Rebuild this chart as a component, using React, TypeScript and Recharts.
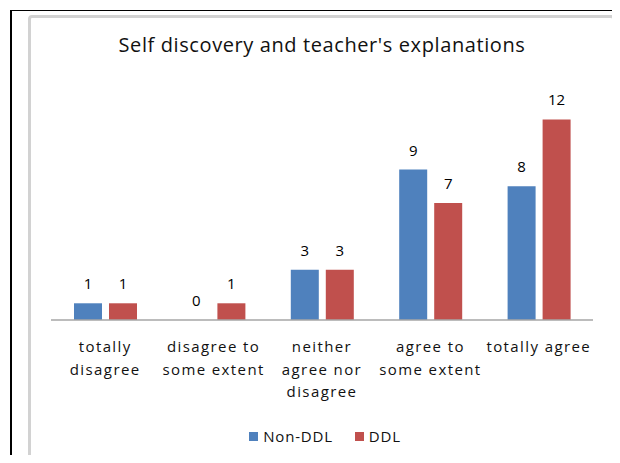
import { BarChart, Bar, XAxis, YAxis, Legend, LabelList } from 'recharts';

const categories = [
  'totally\ndisagree',
  'disagree to\nsome extent',
  'neither\nagree nor\ndisagree',
  'agree to\nsome extent',
  'totally agree',
];
const nonDdl = [1, 0, 3, 9, 8];
const ddl = [1, 1, 3, 7, 12];

const data = categories.map((c, i) => ({ name: c, nonDdl: nonDdl[i], ddl: ddl[i] }));

const FONT = '"Open Sans", sans-serif';

// zero-height bars get dropped (and their labels with them), so keep a hairline
const keepZero = (v: any) => (v === 0 ? 0.01 : 0);

const MultiLineTick = ({ x, y, payload }: any) => {
  const lines = String(payload.value).split('\n');
  return (
    <text x={x} y={y} textAnchor="middle" fill="#111" fontSize={15} fontFamily={FONT} letterSpacing={1.4}>
      {lines.map((l, i) => (
        <tspan key={i} x={x} dy={i === 0 ? 24 : 22.5}>{l}</tspan>
      ))}
    </text>
  );
};

const ValueLabel = (props: any) => {
  const { x, y, width, value } = props;
  return (
    <text x={x + width / 2} y={y - 14} textAnchor="middle" fill="#000" fontSize={15} fontFamily={FONT}>
      {value}
    </text>
  );
};

const LegendContent = ({ payload }: any) => (
  <div style={{ display: 'flex', justifyContent: 'center', fontFamily: FONT, fontSize: 15, color: '#111', letterSpacing: 0.8 }}>
    {payload.map((p: any, i: number) => (
      <div key={i} style={{ display: 'flex', alignItems: 'center', marginRight: i === 0 ? 22 : 0 }}>
        <span style={{ width: 9, height: 9, background: p.color, marginRight: 5, display: 'inline-block' }} />
        <span>{p.value}</span>
      </div>
    ))}
  </div>
);

export default function App() {
  return (
    <div style={{ position: 'relative', width: 620, height: 463, margin: -8, overflow: 'hidden', background: '#fff' }}>
      {/* outer black frame */}
      <div style={{ position: 'absolute', left: 10, top: 10, width: 620, height: 470, borderLeft: '2px solid #000', borderTop: '1px solid #000', boxSizing: 'border-box' }} />
      <div style={{ position: 'absolute', left: 618, top: 10, width: 2, height: 470, background: '#000' }} />
      {/* inner chart frame */}
      <div style={{ position: 'absolute', left: 28, top: 15, width: 587, height: 470, border: '3px solid #d2d2d2', borderRadius: 4, boxSizing: 'border-box' }} />
      <div style={{ position: 'absolute', left: 0, top: 31, width: 644, textAlign: 'center', fontFamily: FONT, fontSize: 20, letterSpacing: 0.6, color: '#111' }}>
        Self discovery and teacher's explanations
      </div>
      <div style={{ position: 'absolute', left: 0, top: 0 }}>
        <BarChart width={620} height={463} data={data} margin={{ top: 86, right: 27, left: 51, bottom: 63 }} barSize={28} barGap={7}>
          <XAxis dataKey="name" tick={<MultiLineTick />} tickLine={false} axisLine={{ stroke: '#a6a6a6', strokeWidth: 1.5 }} interval={0} height={80} />
          <YAxis hide domain={[0, 14]} />
          <Legend
            verticalAlign="middle"
            layout="horizontal"
            itemSorter={(item: any) => (item.dataKey === 'nonDdl' ? 0 : 1)}
            content={<LegendContent />}
            wrapperStyle={{ top: 426, left: 0, width: 650 }}
          />
          <Bar dataKey="nonDdl" name="Non-DDL" fill="#4f81bd" minPointSize={keepZero} isAnimationActive={false}>
            <LabelList dataKey="nonDdl" content={<ValueLabel />} />
          </Bar>
          <Bar dataKey="ddl" name="DDL" fill="#c0504d" minPointSize={keepZero} isAnimationActive={false}>
            <LabelList dataKey="ddl" content={<ValueLabel />} />
          </Bar>
        </BarChart>
      </div>
    </div>
  );
}
